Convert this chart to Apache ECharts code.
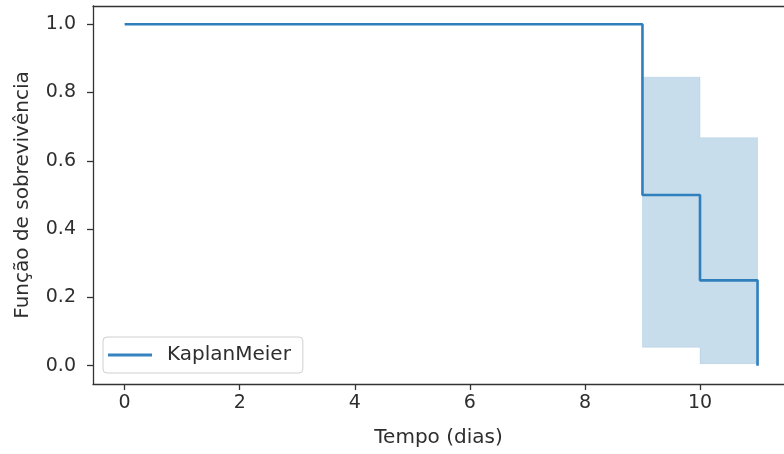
<!DOCTYPE html>
<html><head><meta charset="utf-8">
<script src="https://cdn.jsdelivr.net/npm/echarts@6/dist/echarts.min.js"></script>
<style>html,body{margin:0;padding:0;background:#fff}#c{width:784px;height:454px}</style>
</head><body><div id="c"></div>
<script>
// Kaplan-Meier step points (time, survival)
const kmTimes = [0, 9, 10, 11];
const kmSurvival = [1.0, 0.5, 0.25, 0.0];
// Confidence interval steps: interval start/end with lower & upper bounds
const ciStart = [9, 10];
const ciEnd = [10, 11];
const ciLower = [0.054, 0.006];
const ciUpper = [0.845, 0.668];
const xTicks = [0, 2, 4, 6, 8, 10];
const yTicks = [0.0, 0.2, 0.4, 0.6, 0.8, 1.0];
const seriesName = 'KaplanMeier';

const chart = echarts.init(document.getElementById('c'), null, {renderer: 'canvas'});
const textColor = '#2e2e2e';
const font = 'DejaVu Sans';
const fs = 19;
const fsName = 20;
const spine = {color: '#333', width: 1.3};
const xMin = -0.55, xMax = 11.46;

chart.setOption({
  backgroundColor: '#fff',
  animation: false,
  grid: {left: 93, top: 6, right: 0, bottom: 70, containLabel: false, show: false},
  xAxis: [{
    type: 'value', min: xMin, max: xMax, position: 'bottom',
    name: 'Tempo (dias)', nameLocation: 'middle', nameGap: 44,
    nameTextStyle: {color: textColor, fontFamily: font, fontSize: fsName},
    axisLine: {show: true, onZero: false, lineStyle: spine},
    axisTick: {show: true, length: 6, customValues: xTicks, lineStyle: spine},
    splitLine: {show: false},
    axisLabel: {customValues: xTicks, color: textColor, fontFamily: font, fontSize: fs, margin: 10,
      formatter: v => String(v)}
  }, {
    type: 'value', min: xMin, max: xMax, position: 'top',
    axisLine: {show: true, onZero: false, lineStyle: spine},
    axisTick: {show: false}, axisLabel: {show: false}, splitLine: {show: false}
  }],
  yAxis: {
    type: 'value', min: -0.0535, max: 1.0535,
    name: 'Função de sobrevivência', nameLocation: 'middle', nameGap: 60,
    nameTextStyle: {color: textColor, fontFamily: font, fontSize: fsName},
    axisLine: {show: true, onZero: false, lineStyle: spine},
    axisTick: {show: true, length: 6, customValues: yTicks, lineStyle: spine},
    splitLine: {show: false},
    axisLabel: {customValues: yTicks, color: textColor, fontFamily: font, fontSize: fs, margin: 17,
      formatter: v => v.toFixed(1)}
  },
  legend: {
    data: [seriesName], left: 103, top: 337, orient: 'vertical',
    backgroundColor: '#fff', borderColor: '#d0d0d0', borderWidth: 1, borderRadius: 4,
    padding: [8, 12, 8, 5], itemWidth: 44, itemHeight: 3,
    icon: 'rect',
    textStyle: {color: textColor, fontFamily: font, fontSize: fsName, padding: [0, 0, 0, 10]}
  },
  series: [
    {
      name: 'ci', type: 'custom', silent: true, z: 1,
      data: [0],
      renderItem: function (params, api) {
        const pts = [];
        for (let i = 0; i < ciStart.length; i++) {
          pts.push(api.coord([ciStart[i], ciUpper[i]]));
          pts.push(api.coord([ciEnd[i], ciUpper[i]]));
        }
        for (let i = ciStart.length - 1; i >= 0; i--) {
          pts.push(api.coord([ciEnd[i], ciLower[i]]));
          pts.push(api.coord([ciStart[i], ciLower[i]]));
        }
        return {
          type: 'polygon',
          shape: {points: pts},
          style: {fill: 'rgba(31,119,180,0.25)', stroke: 'rgba(31,119,180,0.12)', lineWidth: 1}
        };
      }
    },
    {
      name: seriesName, type: 'line', step: 'end', symbol: 'none',
      data: kmTimes.map((t, i) => [t, kmSurvival[i]]),
      color: '#3683c0',
      lineStyle: {width: 2.6, color: '#2f7fbd'}, z: 3
    }
  ]
});
</script></body></html>
